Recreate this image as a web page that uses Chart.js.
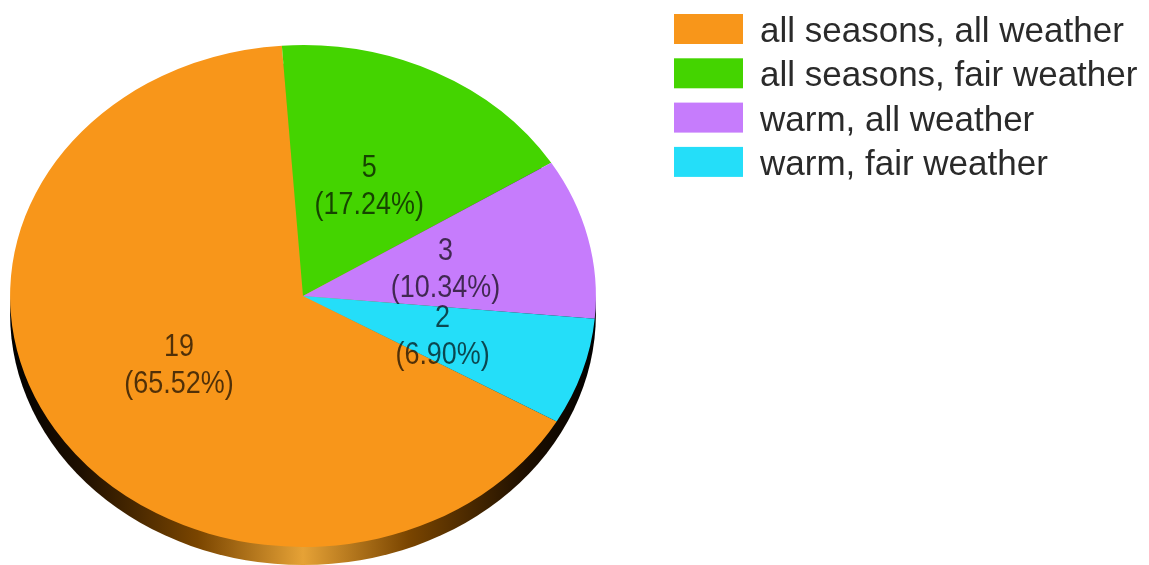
<!DOCTYPE html>
<html>
<head>
<meta charset="utf-8">
<script src="https://cdn.jsdelivr.net/npm/chart.js@4"></script>
<style>
  html, body { margin: 0; padding: 0; background: #fff; }
  #wrap { width: 1149px; height: 565px; }
</style>
</head>
<body>
<div id="wrap"><canvas id="myChart" width="1149" height="565"></canvas></div>
<script>
"use strict";

const labels = [
  "all seasons, all weather",
  "all seasons, fair weather",
  "warm, all weather",
  "warm, fair weather",
];
const counts = [19, 5, 3, 2];
const sliceColors = ["#f8961a", "#44d400", "#c67cfc", "#24def9"];

const stretchX = 1.167; // the pie is drawn tilted: wider than tall
const rimDepth = 18;
const labelFont = "31px 'Liberation Sans', Arial, sans-serif";
const legendFont = "35px 'Liberation Sans', Arial, sans-serif";

const total = counts.reduce((a, b) => a + b, 0);

const tiltPlugin = {
  id: "tilt",
  beforeDatasetsDraw(chart) {
    const ctx = chart.ctx;
    const { x, y, outerRadius } = chart.getDatasetMeta(0).data[0];
    ctx.save();
    ctx.translate(x, y);
    ctx.scale(stretchX, 1);
    ctx.translate(-x, -y);
    // side of the pie, shows below the top face
    const g = ctx.createLinearGradient(x - outerRadius, 0, x + outerRadius, 0);
    g.addColorStop(0, "#000000");
    g.addColorStop(0.12, "#1e0f00");
    g.addColorStop(0.32, "#7a4500");
    g.addColorStop(0.5, "#e6a236");
    g.addColorStop(0.68, "#7a4500");
    g.addColorStop(0.88, "#1e0f00");
    g.addColorStop(1, "#000000");
    ctx.beginPath();
    ctx.arc(x, y + rimDepth, outerRadius, 0, Math.PI * 2);
    ctx.fillStyle = g;
    ctx.fill();
  },
  afterDatasetsDraw(chart) {
    const ctx = chart.ctx;
    ctx.restore();
    const meta = chart.getDatasetMeta(0);
    ctx.save();
    ctx.font = labelFont;
    ctx.fillStyle = "rgba(0, 0, 0, 0.68)";
    ctx.textAlign = "center";
    ctx.textBaseline = "middle";
    meta.data.forEach((arc, i) => {
      const pos = arc.tooltipPosition();
      const px = arc.x + (pos.x - arc.x) * stretchX;
      const py = pos.y + 3;
      const pct = ((counts[i] / total) * 100).toFixed(2);
      const lines = [String(counts[i]), "(" + pct + "%)"];
      lines.forEach((t, j) => {
        ctx.save();
        ctx.translate(px, py + (j - 0.5) * 37);
        ctx.scale(0.87, 1);
        ctx.fillText(t, 0, 0);
        ctx.restore();
      });
    });
    ctx.restore();
  },
  afterDraw(chart) {
    // legend on the right
    const ctx = chart.ctx;
    ctx.save();
    ctx.font = legendFont;
    ctx.textAlign = "left";
    ctx.textBaseline = "alphabetic";
    labels.forEach((lab, i) => {
      const cy = 29 + i * 44.3;
      ctx.fillStyle = sliceColors[i];
      ctx.fillRect(674, cy - 15, 69, 30);
      ctx.fillStyle = "#2a2a2a";
      ctx.fillText(lab, 760, cy + 13);
    });
    ctx.restore();
  },
};

const config = {
  type: "pie",
  data: {
    labels,
    datasets: [
      {
        data: counts,
        backgroundColor: sliceColors,
        borderWidth: 0,
        hoverOffset: 0,
        clip: false,
      },
    ],
  },
  options: {
    responsive: false,
    animation: false,
    rotation: 120,
    layout: {
      padding: { left: 0, right: 543, top: 45, bottom: 18 },
    },
    plugins: {
      legend: { display: false },
      tooltip: { enabled: false },
    },
  },
  plugins: [tiltPlugin],
};

const myChart = new Chart(document.getElementById("myChart"), config);
</script>
</body>
</html>
